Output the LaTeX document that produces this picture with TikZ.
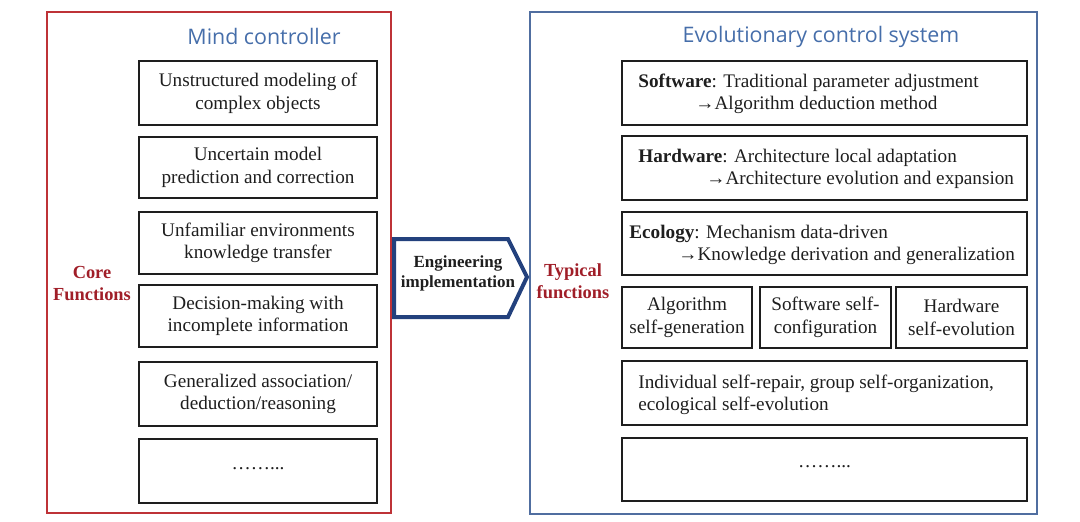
\documentclass[tikz,border=0pt]{standalone}
\usepackage{fontspec}
\setmainfont{Liberation Serif}
\newfontfamily\titlefont{Open Sans}
\definecolor{framered}{RGB}{190,50,55}
\definecolor{frameblue}{RGB}{80,110,160}
\definecolor{titleblue}{RGB}{70,110,170}
\definecolor{labelred}{RGB}{160,30,40}
\definecolor{arrowblue}{RGB}{35,65,125}
\definecolor{ink}{RGB}{30,30,30}
\newcommand{\bodyfont}{\fontsize{9.6}{11.3}\selectfont}
\begin{document}
\begin{tikzpicture}[x=0.5pt,y=-0.5pt,
  box/.style={draw=ink, line width=0.8pt, inner sep=0pt, outer sep=0pt, align=center, text=ink, font=\bodyfont},
  lw/.style={minimum width=119pt},
  rw/.style={minimum width=202.5pt},
  sw/.style={minimum width=65.5pt, minimum height=30.5pt},
  line/.style={anchor=base west, inner sep=0pt, text=ink, font=\bodyfont},
  frametitle/.style={text=titleblue, font=\titlefont\fontsize{10.7}{12}\selectfont},
  sidelabel/.style={text=labelred, align=center, font=\bfseries\fontsize{9.2}{11}\selectfont},
  bigframe/.style={line width=1pt, inner sep=0pt, outer sep=0pt}]
\useasboundingbox (0,0) rectangle (1080,521);
% frames
\node[bigframe, draw=framered, minimum width=172pt, minimum height=250.5pt] (left) at (219,262.5) {};
\node[bigframe, draw=frameblue, minimum width=253.5pt, minimum height=251pt] (right) at (783.5,263) {};
\node[frametitle] (t1) at (264,36) {Mind controller};
\node[frametitle] (t2) at (821,37) {Evolutionary control system};
% left boxes
\node[box, lw, minimum height=32pt] (l1) at (258,93) {Unstructured modeling of\\complex objects};
\node[box, lw, minimum height=30.5pt] (l2) at (258,167.5) {Uncertain model\\prediction and correction};
\node[box, lw, minimum height=31pt] (l3) at (258,243) {Unfamiliar environments\\knowledge transfer};
\node[box, lw, minimum height=31pt] (l4) at (258,316) {Decision-making with\\incomplete information};
\node[box, lw, minimum height=32pt] (l5) at (258,394) {Generalized association/\\deduction/reasoning};
\node[box, lw, minimum height=32pt] (l6) at (258,471) {\raisebox{3pt}{……...}};
\node[sidelabel] (core) at (92,284) {Core\\Functions};
% arrow
\draw[arrowblue, line width=2pt, line join=miter] (394,239) -- (508,239) -- (527,277) -- (508,317) -- (394,317) -- cycle;
\node[align=center, text=ink, font=\bfseries\fontsize{8.5}{10}\selectfont] (eng) at (458,273) {Engineering\\implementation};
\node[sidelabel] (typ) at (573,281) {Typical\\functions};
% right boxes
\node[box, rw, minimum height=32pt] (r1) at (824.5,93) {};
\node[line] (r1a) at (638,87) {\textbf{Software}: Traditional parameter adjustment};
\node[line] (r1b) at (695,109) {→Algorithm deduction method};
\node[box, rw, minimum height=32pt] (r2) at (824.5,168) {};
\node[line] (r2a) at (638,162) {\textbf{Hardware}: Architecture local adaptation};
\node[line] (r2b) at (706,184) {→Architecture evolution and expansion};
\node[box, rw, minimum height=31.5pt] (r3) at (824.5,243.5) {};
\node[line] (r3a) at (629,238) {\textbf{Ecology}: Mechanism data-driven};
\node[line] (r3b) at (678,260) {→Knowledge derivation and generalization};
\node[box, sw, minimum width=65pt] (r4a) at (687,317.5) {Algorithm\\self-generation};
\node[box, sw] (r4b) at (825.5,317.5) {Software self-\\configuration};
\node[box, sw] (r4c) at (961.5,317.5) {Hardware\\self-evolution};
\node[box, rw, minimum height=32pt] (r5) at (824.5,393) {};
\node[line] (r5a) at (638,388) {Individual self-repair, group self-organization,};
\node[line] (r5b) at (638,410) {ecological self-evolution};
\node[box, rw, minimum height=31.5pt] (r6) at (824.5,469.5) {\raisebox{3pt}{……...}};
\end{tikzpicture}
\end{document}
